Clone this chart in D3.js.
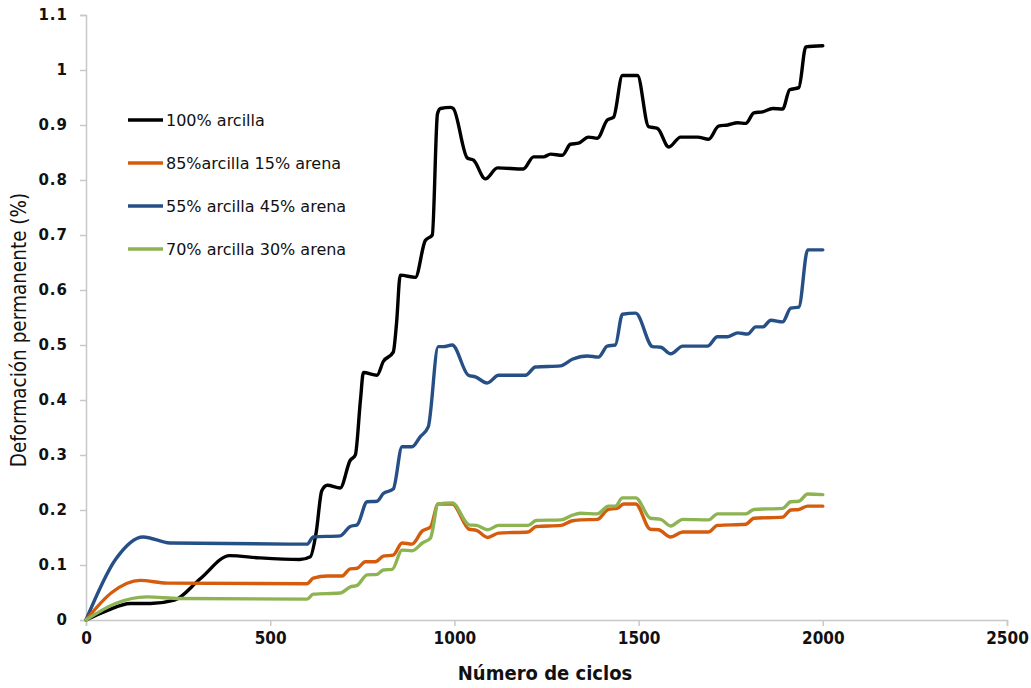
<!DOCTYPE html>
<html><head><meta charset="utf-8">
<script src="https://cdn.jsdelivr.net/npm/d3@7"></script>
<style>body{margin:0;background:#fff}</style>
</head><body>
<svg id="c" width="1031" height="688"></svg>
<script>
const seriesNames = ["100% arcilla","85%arcilla 15% arena","55% arcilla 45% arena","70% arcilla 30% arena"];
const seriesColors = ["#000000","#d45c0c","#264f86","#8db352"];
const xTicks = [0,500,1000,1500,2000,2500];
const yTicks = [0,0.1,0.2,0.3,0.4,0.5,0.6,0.7,0.8,0.9,1,1.1];

const arcilla100 = [[0,0],[60,0.018],[120,0.03],[175,0.03],[240,0.036],[310,0.075],[390,0.117],[470,0.113],[580,0.11],[609,0.115],[625,0.16],[640,0.235],[655,0.245],[690,0.24],[717,0.29],[731,0.30],[745,0.40],[753,0.45],[790,0.445],[807,0.47],[834,0.487],[843,0.54],[853,0.627],[894,0.623],[921,0.69],[940,0.70],[954,0.92],[962,0.93],[990,0.932],[997,0.93],[1035,0.84],[1052,0.836],[1084,0.802],[1117,0.822],[1187,0.82],[1215,0.842],[1242,0.842],[1261,0.847],[1293,0.845],[1315,0.865],[1337,0.867],[1364,0.878],[1388,0.876],[1415,0.909],[1432,0.914],[1456,0.99],[1497,0.99],[1527,0.897],[1551,0.894],[1582,0.86],[1614,0.878],[1660,0.878],[1690,0.874],[1717,0.898],[1742,0.90],[1769,0.904],[1791,0.903],[1813,0.922],[1837,0.924],[1864,0.93],[1891,0.929],[1910,0.964],[1935,0.968],[1954,1.042],[2000,1.044]];
const arcilla85 = [[0,0],[70,0.05],[147,0.072],[220,0.067],[600,0.066],[617,0.076],[655,0.08],[695,0.08],[717,0.093],[736,0.094],[758,0.106],[785,0.106],[807,0.116],[834,0.118],[858,0.14],[885,0.138],[913,0.162],[935,0.169],[956,0.211],[994,0.211],[1040,0.165],[1060,0.163],[1090,0.15],[1120,0.158],[1200,0.16],[1222,0.17],[1290,0.172],[1318,0.18],[1342,0.182],[1388,0.183],[1418,0.201],[1442,0.203],[1459,0.211],[1492,0.211],[1532,0.165],[1554,0.164],[1587,0.151],[1620,0.16],[1690,0.16],[1714,0.172],[1791,0.174],[1813,0.185],[1891,0.187],[1913,0.2],[1935,0.201],[1959,0.207],[2000,0.207]];
const arcilla55 = [[0,0],[80,0.11],[155,0.151],[228,0.14],[600,0.138],[617,0.151],[690,0.153],[717,0.17],[736,0.173],[763,0.215],[790,0.216],[807,0.23],[834,0.238],[858,0.315],[885,0.315],[907,0.333],[929,0.351],[956,0.497],[970,0.497],[994,0.5],[1038,0.445],[1057,0.442],[1089,0.431],[1120,0.445],[1193,0.445],[1220,0.46],[1288,0.462],[1320,0.474],[1361,0.48],[1391,0.478],[1415,0.498],[1437,0.5],[1456,0.556],[1492,0.558],[1538,0.497],[1560,0.496],[1587,0.484],[1620,0.498],[1687,0.498],[1714,0.515],[1742,0.515],[1769,0.522],[1796,0.52],[1818,0.533],[1837,0.533],[1859,0.545],[1891,0.542],[1913,0.567],[1935,0.569],[1959,0.673],[2000,0.673]];
const arcilla70 = [[0,0],[80,0.03],[165,0.042],[255,0.039],[600,0.038],[617,0.047],[690,0.049],[717,0.06],[736,0.063],[763,0.082],[790,0.083],[807,0.091],[831,0.092],[858,0.127],[885,0.126],[913,0.14],[935,0.149],[956,0.211],[994,0.213],[1040,0.173],[1060,0.172],[1090,0.164],[1120,0.172],[1200,0.172],[1222,0.181],[1290,0.182],[1318,0.19],[1342,0.194],[1388,0.193],[1418,0.207],[1437,0.207],[1456,0.222],[1492,0.222],[1532,0.185],[1560,0.183],[1587,0.171],[1620,0.183],[1690,0.182],[1714,0.193],[1791,0.193],[1813,0.201],[1891,0.203],[1913,0.215],[1935,0.216],[1959,0.229],[2000,0.228]];
const seriesData = [arcilla100, arcilla85, arcilla55, arcilla70];

const svg = d3.select("#c");
const m = {l:86, r:1007, t:15, b:620};
const x = d3.scaleLinear().domain([0,2500]).range([m.l, m.r]);
const y = d3.scaleLinear().domain([0,1.1]).range([m.b, m.t]);

const ax = svg.append("g").attr("transform",`translate(0,${m.b})`)
  .call(d3.axisBottom(x).tickValues(xTicks).tickSize(6).tickPadding(6).tickFormat(d3.format("d")));
ax.selectAll("text").attr("font-family","'Liberation Sans Narrow', 'DejaVu Sans Condensed', sans-serif").attr("font-weight","bold").attr("font-size","17px").attr("fill","#111");
const ay = svg.append("g").attr("transform",`translate(${m.l},0)`)
  .call(d3.axisLeft(y).tickValues(yTicks).tickSize(6).tickPadding(12).tickFormat(d => d3.format("")(+d.toFixed(1))));
ay.selectAll("text").attr("font-family","'DejaVu Sans', sans-serif").attr("font-weight","bold").attr("font-size","15px").attr("letter-spacing","1px").attr("fill","#111");
svg.selectAll(".domain").attr("stroke","#c8c8c8").attr("stroke-width",1.5);
svg.selectAll(".tick line").attr("stroke","#c8c8c8").attr("stroke-width",1.5);

const line = d3.line().x(d => x(d[0])).y(d => y(d[1])).curve(d3.curveMonotoneX);
const order = [0,2,1,3];
order.forEach(i => {
  svg.append("path").datum(seriesData[i]).attr("d", line)
    .attr("fill","none").attr("stroke", seriesColors[i]).attr("stroke-width",3.4)
    .attr("stroke-linejoin","round").attr("stroke-linecap","round");
});

const legY = [120,163,206,249];
seriesNames.forEach((name,k) => {
  svg.append("line").attr("x1",128).attr("x2",163).attr("y1",legY[k]).attr("y2",legY[k])
    .attr("stroke",seriesColors[k]).attr("stroke-width",3.4);
  svg.append("text").attr("x",166).attr("y",legY[k]+6).text(name)
    .attr("font-family","'DejaVu Sans', sans-serif").attr("font-size","16px").attr("fill","#111");
});

svg.append("text").attr("x",545).attr("y",680).attr("text-anchor","middle").text("Número de ciclos")
  .attr("font-family","'Liberation Sans Narrow', 'DejaVu Sans Condensed', sans-serif").attr("font-weight","bold").attr("font-size","20px").attr("fill","#111");
svg.append("text").attr("transform","translate(26,330) rotate(-90)").attr("text-anchor","middle").text("Deformación permanente (%)")
  .attr("font-family","'Liberation Sans Narrow', 'DejaVu Sans Condensed', sans-serif").attr("font-size","20.5px").attr("fill","#111");
</script>
</body></html>
